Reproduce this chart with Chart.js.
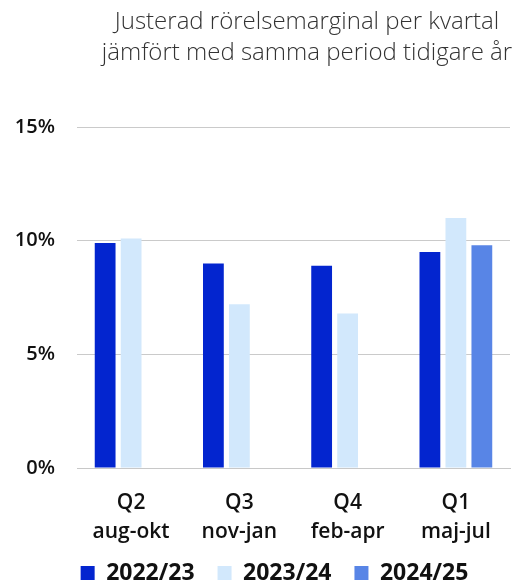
<!DOCTYPE html>
<html>
<head>
<meta charset="utf-8">
<script src="https://cdn.jsdelivr.net/npm/chart.js@4"></script>
<style>
  html, body { margin: 0; padding: 0; background: #fff; }
  #wrap { position: relative; width: 516px; height: 588px; }
  #title {
    position: absolute; left: 98px; right: 0; top: 4px;
    text-align: center;
    font-family: 'Open Sans', sans-serif; font-weight: 300; font-size: 24px;
    line-height: 31px; color: #333;
  }
</style>
</head>
<body>
<div id="wrap">
  <div id="title">Justerad rörelsemarginal per kvartal<br>jämfört med samma period tidigare år</div>
  <canvas id="chart"></canvas>
</div>
<script>
var quarters = [['Q2', 'aug-okt'], ['Q3', 'nov-jan'], ['Q4', 'feb-apr'], ['Q1', 'maj-jul']];
var fy2223 = [9.9, 9.0, 8.9, 9.5];
var fy2324 = [10.1, 7.2, 6.8, 11.0];
var fy2425 = [null, null, null, 9.8];
var yTicks = [0, 5, 10, 15];

var font = "'Open Sans', sans-serif";

// move the legend a little, after the layout is done
var legendNudge = {
    id: 'legendNudge',
    afterLayout: function (chart) {
        var l = chart.legend;
        l.left += 13; l.right += 13;
        l.top -= 5.5; l.bottom -= 5.5;
    }
};

var ctx = document.getElementById('chart').getContext('2d');
var chart = new Chart(ctx, {
    type: 'bar',
    data: {
        labels: quarters,
        datasets: [
            { label: '2022/23', data: fy2223, backgroundColor: '#0325cf' },
            { label: '2023/24', data: fy2324, backgroundColor: '#d2e8fc' },
            { label: '2024/25', data: fy2425, backgroundColor: '#5885e6' }
        ]
    },
    plugins: [legendNudge],
    options: {
        responsive: true,
        maintainAspectRatio: false,
        animation: false,
        layout: { padding: { left: 13, right: 6, top: 127, bottom: -12 } },
        datasets: {
            bar: { categoryPercentage: 0.72, barPercentage: 0.8 }
        },
        plugins: {
            title: { display: false },
            legend: {
                position: 'bottom',
                labels: {
                    boxWidth: 14,
                    boxHeight: 14,
                    padding: 23,
                    color: '#111',
                    font: { family: font, size: 23, weight: 'bold' }
                }
            },
            tooltip: { enabled: false }
        },
        scales: {
            x: {
                grid: { display: false },
                border: { display: true, color: '#c8c8c8', width: 1 },
                ticks: {
                    color: '#111',
                    font: { family: font, size: 21, weight: '600', lineHeight: 1.4 },
                    maxRotation: 0,
                    padding: 12
                },
                afterFit: function (scale) {
                    // keep the labels from pushing the plot inwards
                    scale.paddingLeft = 0;
                    scale.paddingRight = 0;
                    scale.height = 76;
                }
            },
            y: {
                min: 0,
                max: 15,
                afterBuildTicks: function (axis) {
                    axis.ticks = yTicks.map(function (v) { return { value: v }; });
                },
                afterFit: function (axis) {
                    axis.width = 64;
                },
                grid: { color: '#cacaca', lineWidth: 1, drawTicks: false },
                border: { display: false },
                ticks: {
                    color: '#111',
                    padding: 22,
                    font: { family: font, size: 20, weight: '600' },
                    callback: function (v) { return v + '%'; }
                }
            }
        }
    }
});
</script>
</body>
</html>
